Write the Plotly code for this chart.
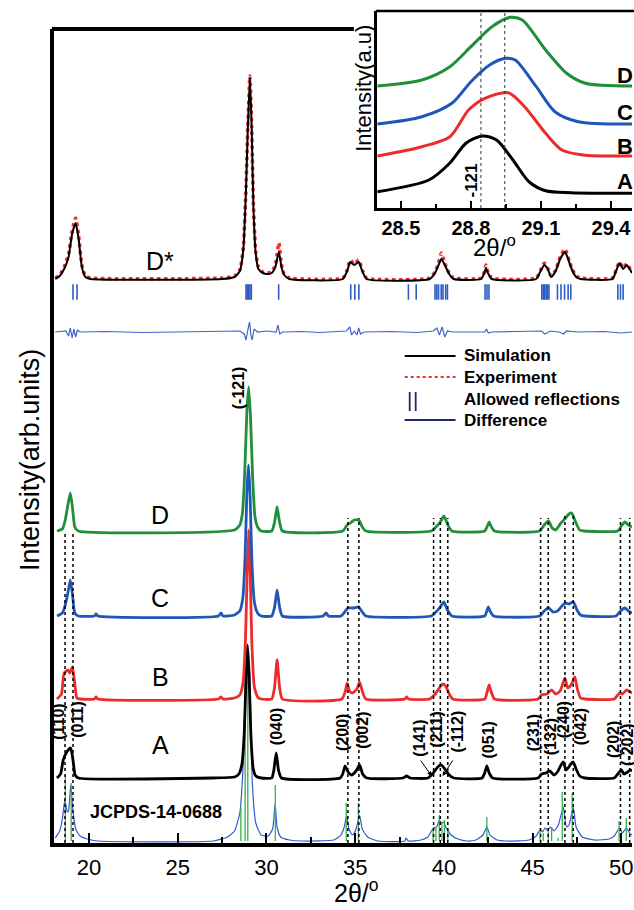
import plotly.graph_objects as go

W, H = 634, 910
FONT = "Liberation Sans, Arial, sans-serif"

def px(x):
    return x / W

def py(y):
    return 1 - y / H

# ---------------- DATA (2θ in degrees, intensity in arbitrary units) ----------------
# stacking offsets of each pattern (arb. units)
OFF_REF, OFF_A, OFF_B, OFF_C, OFF_D, OFF_DIFF, OFF_REFL, OFF_DSTAR = 2, 65, 144, 227, 312, 511, 551, 564

# JCPDS-14-0688 simulated profile
ref_x = [18.1, 18.35, 18.5, 18.64, 18.78, 18.85, 18.97, 19.1, 19.25, 19.5, 19.9, 20.5,
         27.0, 27.8, 28.2, 28.5, 28.7, 28.85, 28.95, 29.05, 29.2, 29.4, 29.7, 30.1, 30.35, 30.49, 30.6, 30.8, 31.3, 32.0,
         33.8, 34.2, 34.4, 34.52, 34.65, 34.85, 35.05, 35.25, 35.4, 35.7, 36.3,
         37.8, 37.86, 38.0,
         38.7, 39.1, 39.3, 39.42, 39.6, 39.74, 39.86, 39.98, 40.1, 40.2, 40.4, 40.8, 41.3,
         41.8, 42.2, 42.42, 42.6, 43.0, 43.5,
         44.8, 45.2, 45.42, 45.56, 45.7, 45.85, 46.01, 46.2, 46.45, 46.73, 46.9, 47.05, 47.29, 47.45, 47.8, 48.5, 49.3,
         49.6, 49.9, 50.05, 50.28, 50.5, 50.6]
ref_y = [3, 10, 22, 41, 29, 30, 56, 30, 12, 5, 2, 0,
         0, 4, 10, 28, 80, 170, 181, 170, 60, 18, 6, 5, 12, 37, 14, 4, 1, 0,
         1, 6, 15, 26, 12, 6, 12, 26, 12, 4, 0,
         0, 3, 0,
         1, 4, 10, 13, 14, 21, 18, 19, 14, 11, 6, 2, 0,
         1, 6, 14, 6, 1, 0,
         1, 5, 11, 9, 13, 11, 14, 10, 16, 34, 14, 16, 34, 14, 4, 1, 2,
         5, 13, 8, 13, 7, 6]
ref_stick_pos = [18.67, 19.0, 28.56, 28.8, 28.95, 30.5, 34.5, 35.18, 39.39, 39.55, 39.74, 39.89, 40.03, 40.22,
                 42.42, 45.42, 45.6, 45.88, 46.07, 46.44, 46.67, 47.23, 49.87, 50.28]
ref_stick_h = [66, 58, 34, 173, 181, 56, 38, 38, 11, 14, 26, 19, 21, 11,
               24, 13, 8, 11, 14, 3, 49, 48, 20, 23]

# Sample A
a_x = [18.2, 18.4, 18.55, 18.75, 18.97, 19.1, 19.22, 19.4,
       27.0, 28.2, 28.45, 28.62, 28.75, 28.85, 28.93, 29.02, 29.12, 29.25, 29.4, 29.7,
       30.3, 30.42, 30.55, 30.68, 30.85,
       34.15, 34.3, 34.43, 34.6, 34.8, 35.05, 35.25, 35.42, 35.65,
       37.7, 37.9, 38.1,
       39.1, 39.4, 39.65, 39.86, 40.05, 40.3, 40.55,
       42.15, 42.3, 42.42, 42.55, 42.75,
       45.3, 45.5, 45.75, 45.97, 46.2, 46.4, 46.6, 46.73, 46.88, 47.0, 47.15, 47.29, 47.45, 47.65, 47.94,
       49.6, 49.8, 50.0, 50.15, 50.35, 50.5, 50.6]
a_y = [0, 4, 18, 26, 30, 18, 3, 0,
       0, 1, 4, 14, 45, 100, 133, 105, 45, 10, 2, 0,
       0, 8, 25, 8, 0,
       0, 4, 12, 6, 3, 7, 13, 4, 0,
       0, 2, 0,
       0, 5, 11, 13, 9, 3, 0,
       0, 5, 12, 5, 0,
       0, 4, 5, 7, 3, 6, 13, 16, 8, 10, 14, 16, 9, 2, 0,
       0, 4, 8, 4, 6, 8, 7]

# Sample B
b_x = [18.2, 18.45, 18.6, 18.83, 18.92, 19.07, 19.2, 19.32, 19.5,
       20.3, 20.4, 20.5,
       27.3, 27.44, 27.55,
       28.2, 28.5, 28.68, 28.82, 28.92, 29.0, 29.08, 29.18, 29.32, 29.5, 29.7,
       30.3, 30.46, 30.6, 30.74, 30.9,
       34.25, 34.45, 34.55, 34.68, 34.85, 35.1, 35.25, 35.4, 35.6,
       37.8, 37.9, 38.0,
       39.2, 39.4, 39.52, 39.7, 39.93, 40.1, 40.3, 40.5,
       42.3, 42.45, 42.55, 42.65, 42.85,
       45.3, 45.5, 45.8, 46.07, 46.3, 46.55, 46.82, 46.98, 47.2, 47.38, 47.52, 47.7, 47.95,
       49.6, 49.9, 50.05, 50.3, 50.5, 50.6]
b_y = [0, 5, 26, 29, 26, 32, 15, 1, 0,
       0, 2, 0,
       0, 2, 0,
       1, 4, 16, 60, 130, 169, 130, 55, 12, 2, 0,
       0, 12, 39, 12, 0,
       0, 8, 16, 8, 6, 10, 17, 8, 0,
       0, 2, 0,
       0, 3, 5, 10, 15, 13, 5, 0,
       0, 8, 14, 8, 0,
       0, 4, 5, 9, 5, 8, 21, 11, 15, 22, 10, 1, 0,
       0, 6, 5, 9, 7, 6]

# Sample C
c_x = [18.2, 18.5, 18.68, 18.82, 18.95, 19.08, 19.2, 19.4,
       20.3, 20.4, 20.5,
       27.3, 27.44, 27.55,
       28.2, 28.5, 28.67, 28.8, 28.9, 28.99, 29.08, 29.18, 29.32, 29.5, 29.7,
       30.3, 30.46, 30.6, 30.74, 30.9,
       33.2, 33.36, 33.5,
       34.2, 34.45, 34.6, 34.9, 35.2, 35.4, 35.6,
       39.3, 39.55, 39.8, 40.0, 40.2, 40.45,
       42.3, 42.42, 42.5, 42.6, 42.8,
       45.4, 45.65, 45.9, 46.15, 46.4, 46.7, 46.85, 47.05, 47.3, 47.5, 47.7, 47.95,
       49.7, 49.95, 50.2, 50.4, 50.6]
c_y = [0, 3, 12, 24, 36, 20, 3, 0,
       0, 2, 0,
       0, 3, 0,
       1, 5, 18, 60, 125, 151, 120, 55, 14, 3, 0,
       0, 9, 26, 9, 0,
       0, 3, 0,
       0, 5, 8, 8, 9, 4, 0,
       0, 4, 9, 14, 6, 0,
       0, 5, 9, 5, 0,
       0, 5, 8, 4, 5, 11, 13, 12, 14, 6, 1, 0,
       0, 5, 8, 5, 3]

# Sample D
d_x = [18.2, 18.5, 18.65, 18.8, 18.95, 19.08, 19.2, 19.4,
       28.2, 28.5, 28.65, 28.78, 28.9, 29.0, 29.1, 29.22, 29.35, 29.5, 29.7,
       30.3, 30.46, 30.6, 30.74, 30.9,
       34.3, 34.55, 34.8, 34.95, 35.2, 35.4, 35.6,
       39.3, 39.55, 39.8, 40.0, 40.2, 40.45,
       42.3, 42.45, 42.55, 42.65, 42.85,
       45.4, 45.65, 45.9, 46.1, 46.3, 46.55, 46.85, 47.05, 47.2, 47.4, 47.65, 47.9,
       49.8, 50.0, 50.2, 50.4, 50.6]
d_y = [0, 2, 10, 25, 38, 22, 4, 0,
       1, 6, 18, 60, 120, 144, 115, 55, 15, 4, 0,
       0, 9, 24, 9, 0,
       0, 6, 9, 11, 11, 4, 0,
       0, 4, 9, 15, 7, 0,
       0, 5, 9, 5, 0,
       0, 6, 10, 3, 1, 7, 13, 17, 18, 10, 1, 0,
       0, 5, 9, 6, 4]

# D* Rietveld refinement: simulation and experiment
ds_x = [18.1, 18.35, 18.6, 18.85, 19.05, 19.25, 19.42, 19.6, 19.8, 20.1,
        27.5, 28.2, 28.5, 28.7, 28.85, 28.95, 29.07, 29.17, 29.27, 29.4, 29.55, 29.8, 30.0, 30.3, 30.5, 30.7, 30.85, 31.0, 31.3,
        34.3, 34.55, 34.72, 34.95, 35.2, 35.4, 35.65,
        39.2, 39.5, 39.7, 39.86, 40.05, 40.3, 40.55,
        42.1, 42.28, 42.37, 42.48, 42.7,
        45.2, 45.45, 45.66, 45.85, 46.05, 46.3, 46.55, 46.82, 47.0, 47.2, 47.45, 47.7,
        49.5, 49.7, 49.9, 50.1, 50.3, 50.5, 50.6]
sim_y = [0, 3, 10, 22, 45, 56, 40, 12, 2, 0,
         0, 2, 8, 30, 90, 150, 202, 150, 70, 25, 10, 6, 5, 6, 12, 27, 12, 4, 0,
         0, 8, 17, 14, 17, 8, 0,
         0, 6, 14, 20, 14, 5, 0,
         0, 6, 11, 6, 0,
         0, 8, 14, 10, 2, 8, 20, 27, 20, 10, 2, 0,
         0, 8, 16, 10, 14, 9, 6]
exp_y = [1, 4, 12, 25, 48, 61, 43, 14, 3, 1,
         1, 3, 9, 32, 92, 152, 203, 153, 73, 27, 12, 7, 6, 7, 14, 36, 14, 5, 1,
         1, 9, 19, 15, 19, 9, 1,
         1, 7, 16, 26, 16, 6, 1,
         1, 7, 14, 7, 1,
         1, 9, 16, 11, 3, 9, 22, 30, 22, 11, 3, 1,
         1, 9, 17, 11, 15, 10, 7]

# allowed reflections (Bragg positions)
refl_pos = [19.1, 19.33, 28.85, 28.92, 29.0, 29.07, 29.15, 30.69, 34.75, 34.98, 35.21, 38.0, 38.44,
            39.5, 39.6, 39.7, 39.85, 39.95, 40.1, 40.2, 42.32, 42.43, 42.54,
            45.52, 45.6, 45.68, 45.76, 45.84, 45.92, 46.4, 46.6, 46.8, 47.0, 47.15, 49.8, 49.95, 50.1]

# difference curve
diff_x = [18.1, 18.7, 18.85, 18.95, 19.05, 19.15, 19.25, 19.35, 19.5, 21, 23, 25, 27, 28.5, 28.75, 28.85, 28.95,
          29.05, 29.12, 29.2, 29.3, 29.5, 30.0, 30.55, 30.65, 30.75, 30.9, 32, 33, 34.5, 34.7, 34.8, 34.95,
          35.1, 35.2, 35.3, 35.5, 37, 38.5, 39.4, 39.6, 39.75, 39.9, 40.05, 40.2, 40.5, 42.3, 42.4, 42.5, 42.7,
          44, 45.5, 45.7, 46.0, 46.5, 46.75, 46.9, 47.5, 49, 50, 50.6]
diff_y = [0, 1, -4, 4, -6, 3, -5, 2, 0, 0.5, -0.5, 0, 0.5, 1, -2, -8, 2,
          10, -3, -8, 3, 0, 1, 0, 7, -2, 0, 0.5, -0.5, 1, 5, -3, 1,
          -3, 4, -2, 0, 0.5, -0.5, 1, 4, -3, 5, -5, 1, 0, 0, 3, -1, 0,
          0.5, 1, -2, 1, 0, -2, 1, 0, 0.5, -1, 0]

# dotted guide lines (peak positions of A) and their upper ends
guide_pos = [18.65, 19.1, 34.59, 35.21, 39.42, 39.8, 40.22, 45.45, 45.88, 46.82, 47.29, 49.95, 50.47]
guide_top = [312, 312, 325, 325, 325, 325, 325, 325, 325, 330, 330, 325, 325]

# inset: (-121) reflection
ins_a_x = [28.40, 28.62, 28.71, 28.78, 28.85, 28.91, 28.98, 29.05, 29.12, 29.23, 29.49]
ins_a_y = [16.3, 28, 45, 65, 72, 68, 48, 26, 17.3, 15.3, 14.7]
ins_b_x = [28.40, 28.59, 28.71, 28.79, 28.86, 28.96, 29.03, 29.12, 29.19, 29.28, 29.49]
ins_b_y = [52, 61.3, 71.3, 98, 109.7, 115.3, 101.3, 74.7, 58, 53, 52]
ins_c_x = [28.40, 28.59, 28.72, 28.80, 28.88, 28.95, 28.99, 29.08, 29.16, 29.26, 29.49]
ins_c_y = [84, 91.3, 105, 126.3, 143, 149.7, 148, 121.3, 96.3, 86.3, 84]
ins_d_x = [28.40, 28.59, 28.71, 28.80, 28.89, 28.97, 29.02, 29.12, 29.21, 29.29, 29.49]
ins_d_y = [122, 128, 141.3, 161.3, 181.3, 190.7, 188, 158, 134.7, 124.7, 122]
ins_guides = [28.843, 28.945]

# hkl labels: (text, x px, y px)
hkl_labels = [("(110)", 58, 722), ("(011)", 77, 720), ("(040)", 277, 727),
              ("(200)", 343, 732), ("(002)", 363, 730), ("(141)", 420, 738),
              ("(211)", 437, 730), ("(-112)", 458, 732), ("(051)", 490, 740),
              ("(231)", 535, 733), ("(132)", 552, 737), ("(240)", 565, 720),
              ("(042)", 582, 727), ("(202)", 615, 740), ("(-202)", 629, 745)]

# ---------------- COLORS ----------------
C_A, C_B, C_C, C_D = "#000000", "#ee2b2b", "#1f57b8", "#1f8f3a"
C_REF, C_STICK, C_REFL, C_DIFF, C_NAVY = "#2f5ccf", "#38b04a", "#2b5cc6", "#3d66cc", "#1b2a66"

fig = go.Figure()

def off(vals, o):
    return [v + o for v in vals]

SPL = dict(shape="spline", smoothing=0.5)

# reference pattern
sx, sy = [], []
for p, h in zip(ref_stick_pos, ref_stick_h):
    sx += [p, p, None]
    sy += [OFF_REF, OFF_REF + h, None]
fig.add_trace(go.Scatter(x=ref_x, y=off(ref_y, OFF_REF), mode="lines", line=dict(color=C_REF, width=1.2, **SPL)))
fig.add_trace(go.Scatter(x=sx, y=sy, mode="lines", line=dict(color=C_STICK, width=1.3)))

# stacked samples
for xs, ys, o, c in [(a_x, a_y, OFF_A, C_A), (b_x, b_y, OFF_B, C_B), (c_x, c_y, OFF_C, C_C), (d_x, d_y, OFF_D, C_D)]:
    fig.add_trace(go.Scatter(x=xs, y=off(ys, o), mode="lines", line=dict(color=c, width=2.8, **SPL)))

# guide lines
gx, gy = [], []
for p, t in zip(guide_pos, guide_top):
    gx += [p, p, None]
    gy += [0, t, None]
fig.add_trace(go.Scatter(x=gx, y=gy, mode="lines", line=dict(color="black", width=1.5, dash="dot")))

# D* refinement
fig.add_trace(go.Scatter(x=ds_x, y=off(exp_y, OFF_DSTAR), mode="lines",
                         line=dict(color="#f03030", width=3.5, dash="dot", **SPL)))
fig.add_trace(go.Scatter(x=ds_x, y=off(sim_y, OFF_DSTAR), mode="lines", line=dict(color="black", width=2, **SPL)))
fig.add_trace(go.Scatter(x=refl_pos, y=[OFF_REFL] * len(refl_pos), mode="markers",
                         marker=dict(symbol="line-ns", size=11, line=dict(color=C_REFL, width=1.6))))
fig.add_trace(go.Scatter(x=diff_x, y=off(diff_y, OFF_DIFF), mode="lines", line=dict(color=C_DIFF, width=1.2)))

# inset
for xs, ys, c in [(ins_a_x, ins_a_y, C_A), (ins_b_x, ins_b_y, C_B), (ins_c_x, ins_c_y, C_C), (ins_d_x, ins_d_y, C_D)]:
    fig.add_trace(go.Scatter(x=xs, y=ys, mode="lines", line=dict(color=c, width=3, shape="spline", smoothing=0.8),
                             xaxis="x2", yaxis="y2"))
ix, iy = [], []
for p in ins_guides:
    ix += [p, p, None]
    iy += [0, 197, None]
fig.add_trace(go.Scatter(x=ix, y=iy, mode="lines", line=dict(color="#333333", width=1, dash="dot"),
                         xaxis="x2", yaxis="y2"))

# ---------------- ANNOTATIONS ----------------
ann = []

def text(t, x, y, size, bold=False, angle=0, xanchor="center", color="black"):
    ann.append(dict(text=("<b>%s</b>" % t) if bold else t, x=px(x), y=py(y), xref="paper", yref="paper",
                    showarrow=False, textangle=angle, xanchor=xanchor, yanchor="middle",
                    font=dict(family=FONT, size=size, color=color)))

for t, x, y in hkl_labels:
    text(t, x, y, 16, bold=True, angle=-90)
text("(-121)", 239, 388, 16, bold=True, angle=-90)
text("A", 161, 745, 25)
text("B", 161, 677, 25)
text("C", 161, 598, 25)
text("D", 161, 515, 25)
text("D*", 161, 261, 25)
text("JCPDS-14-0688", 156, 812, 18, bold=True)
text("Intensity(arb.units)", 30, 460, 27, angle=-90)
text("2θ/<sup>o</sup>", 358, 891, 25)

# inset texts
text("Intensity(a.u)", 365, 88, 22, angle=-90)
text("2θ/<sup>o</sup>", 496, 246, 24)
text("-121", 473, 181, 17, bold=True, angle=-90)
for t, y in [("D", 75), ("C", 112), ("B", 147), ("A", 182)]:
    text(t, 617, y, 22, bold=True, xanchor="left")

# legend
for t, y in [("Simulation", 356), ("Experiment", 377), ("Allowed reflections", 399), ("Difference", 420)]:
    text(t, 463, y, 17, bold=True, xanchor="left")

# arrows
for hx, hy, axo, ayo in [(433, 776, -12, -17), (444, 776, 11, -17)]:
    ann.append(dict(text="", x=px(hx), y=py(hy), xref="paper", yref="paper", showarrow=True,
                    ax=axo, ay=ayo, arrowhead=2, arrowsize=0.9, arrowwidth=1, arrowcolor="black"))

shapes = [
    dict(type="line", xref="paper", yref="paper", x0=px(52), x1=px(355), y0=py(29), y1=py(29),
         line=dict(color="black", width=4)),
    dict(type="line", xref="paper", yref="paper", x0=px(377), x1=px(640), y0=py(11), y1=py(11),
         line=dict(color="black", width=2.5)),
    dict(type="line", xref="paper", yref="paper", x0=px(406), x1=px(457), y0=py(356), y1=py(356),
         line=dict(color="black", width=2)),
    dict(type="line", xref="paper", yref="paper", x0=px(406), x1=px(457), y0=py(377), y1=py(377),
         line=dict(color="#f03030", width=2, dash="dot")),
    dict(type="line", xref="paper", yref="paper", x0=px(411), x1=px(411), y0=py(392), y1=py(411),
         line=dict(color=C_NAVY, width=1.8)),
    dict(type="line", xref="paper", yref="paper", x0=px(417), x1=px(417), y0=py(392), y1=py(411),
         line=dict(color=C_NAVY, width=1.8)),
    dict(type="line", xref="paper", yref="paper", x0=px(406), x1=px(457), y0=py(420), y1=py(420),
         line=dict(color=C_NAVY, width=2)),
]

fig.update_layout(
    width=W, height=H, margin=dict(l=0, r=0, t=0, b=0),
    paper_bgcolor="white", plot_bgcolor="rgba(0,0,0,0)", showlegend=False,
    font=dict(family=FONT, color="black"),
    annotations=ann, shapes=shapes,
    xaxis=dict(domain=[px(54), 1], range=[18.02, 50.6], showline=True, linewidth=4, linecolor="black",
               ticks="inside", ticklen=10, tickwidth=2, tickcolor="black", tickvals=[20, 25, 30, 35, 40, 45, 50],
               ticklabeloverflow="allow", ticklabelstandoff=2,
               minor=dict(tickvals=[22.5, 27.5, 32.5, 37.5, 42.5, 47.5], ticks="inside", ticklen=6, tickwidth=2,
                          tickcolor="black"),
               tickfont=dict(size=22, family=FONT), showgrid=False, zeroline=False),
    yaxis=dict(domain=[py(843), py(29)], range=[0, 814], showline=True, linewidth=4, linecolor="black",
               showticklabels=False, ticks="", showgrid=False, zeroline=False),
    xaxis2=dict(domain=[px(378), 1], range=[28.397, 29.49], anchor="y2", showline=True, linewidth=2.5,
                linecolor="black", ticks="inside", ticklen=7, tickwidth=2, tickcolor="black",
                tickvals=[28.5, 28.8, 29.1, 29.4], ticktext=["28.5", "28.8", "29.1", "29.4"],
                ticklabeloverflow="allow",
                minor=dict(tickvals=[28.65, 28.95, 29.25], ticks="inside", ticklen=4, tickwidth=2, tickcolor="black"),
                tickfont=dict(size=20, family=FONT, weight="bold"), showgrid=False, zeroline=False),
    yaxis2=dict(domain=[py(208), py(11)], range=[0, 197], anchor="x2", showline=True, linewidth=2.5,
                linecolor="black", showticklabels=False, ticks="", showgrid=False, zeroline=False),
)

fig.write_html("out.html")
